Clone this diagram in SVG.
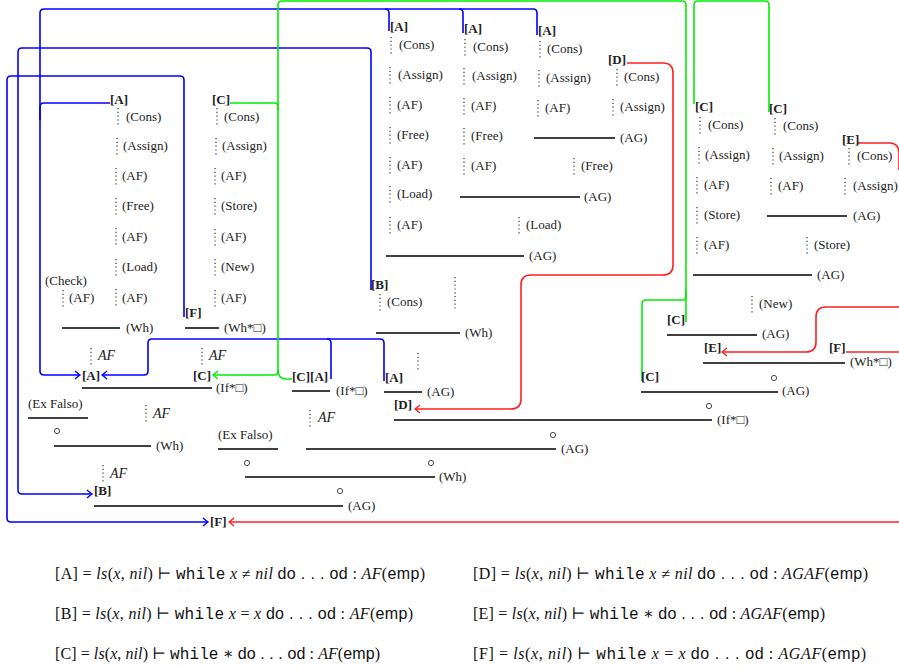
<svg xmlns="http://www.w3.org/2000/svg" width="899" height="669" viewBox="0 0 899 669">
<style>
text{font-family:"Liberation Serif","DejaVu Serif",serif;font-size:13px;fill:#222}
.b{font-weight:bold}
.i{font-style:italic}
.af{font-style:italic;font-size:14px}
.dt{stroke:#444;stroke-width:1.3;stroke-dasharray:1.2 2.6}
.rl{stroke:#000;stroke-width:1.4}
.ci{fill:none;stroke:#333;stroke-width:0.9}
.cb{fill:none;stroke:#0000ff;stroke-width:1.6}
.cg{fill:none;stroke:#00ee00;stroke-width:1.6}
.cr{fill:none;stroke:#ff2020;stroke-width:1.6}
.lg{font-size:16px;fill:#111}
.m{font-family:"Liberation Mono","DejaVu Sans Mono",monospace}
.s{font-family:"Liberation Sans","DejaVu Sans",sans-serif}
</style>
<defs>
<marker id="mb" viewBox="-7 -6 9 12" refX="0" refY="0" markerWidth="9" markerHeight="12" orient="auto" markerUnits="userSpaceOnUse"><path d="M -5 -4 Q -1.5 -1 0 0 Q -1.5 1 -5 4" fill="none" stroke="#0000ff" stroke-width="1.4"/></marker>
<marker id="mg" viewBox="-7 -6 9 12" refX="0" refY="0" markerWidth="9" markerHeight="12" orient="auto" markerUnits="userSpaceOnUse"><path d="M -5 -4 Q -1.5 -1 0 0 Q -1.5 1 -5 4" fill="none" stroke="#00ee00" stroke-width="1.4"/></marker>
<marker id="mr" viewBox="-7 -6 9 12" refX="0" refY="0" markerWidth="9" markerHeight="12" orient="auto" markerUnits="userSpaceOnUse"><path d="M -5 -4 Q -1.5 -1 0 0 Q -1.5 1 -5 4" fill="none" stroke="#ff2020" stroke-width="1.4"/></marker>
</defs>
<rect width="899" height="669" fill="#fff"/>

<g id="connectors">
  <path class="cb" d="M 389 31 V 13 Q 389 9 385 9 H 44 Q 40 9 40 13 V 371 Q 40 375 44 375 H 80" marker-end="url(#mb)"/>
  <path class="cb" d="M 463 33 V 13 Q 463 9 459 9 H 385"/>
  <path class="cb" d="M 537 35 V 13 Q 537 9 533 9 H 459"/>
  <path class="cb" d="M 110 103 H 44 Q 40 103 40 107 V 120"/>
  <path class="cb" d="M 371 290 V 52 Q 371 48 367 48 H 22 Q 18 48 18 52 V 490 Q 18 494 22 494 H 92" marker-end="url(#mb)"/>
  <path class="cb" d="M 184 317 V 80 Q 184 76 180 76 H 11 Q 7 76 7 80 V 518 Q 7 522 11 522 H 208" marker-end="url(#mb)"/>
  <path class="cb" d="M 384 381 V 343 Q 384 339 380 339 H 152 Q 148 339 148 343 V 371 Q 148 375 144 375 H 102" marker-end="url(#mb)"/>
  <path class="cb" d="M 331 379 V 343 Q 331 339 327 339"/>
  <path class="cg" d="M 230 103 H 274 Q 278 103 278 107 V 371 Q 278 375 274 375 H 213" marker-end="url(#mg)"/>
  <path class="cg" d="M 278 370 Q 278 379 286 379 H 292"/>
  <path class="cg" d="M 278 110 V 5 Q 278 1 282 1 H 682 Q 686 1 686 5 V 322"/>
  <path class="cg" d="M 694 104 V 5 Q 694 1 698 1 H 765 Q 769 1 769 5 V 112"/>
  <path class="cg" d="M 686 290 V 296 Q 686 300 682 300 H 646 Q 642 300 642 304 V 381"/>
  <path class="cr" d="M 627 63 H 663 Q 673 63 673 73 V 265 Q 673 275 663 275 H 531 Q 521 275 521 285 V 399 Q 521 409 511 409 H 415" marker-end="url(#mr)"/>
  <path class="cr" d="M 858 143 H 889 Q 899 143 899 153 V 170"/>
  <path class="cr" d="M 905 307 H 826 Q 816 307 816 317 V 342 Q 816 352 806 352 H 722" marker-end="url(#mr)"/>
  <path class="cr" d="M 846 352 H 905"/>
  <path class="cr" d="M 905 522 H 229" marker-end="url(#mr)"/>
</g>

<g id="leftA">
  <text class="b" x="110" y="104">[A]</text>
  <line class="dt" x1="118" y1="108" x2="118" y2="126"/><text x="126" y="121">(Cons)</text>
  <line class="dt" x1="117" y1="138" x2="117" y2="155"/><text x="123" y="150">(Assign)</text>
  <line class="dt" x1="116" y1="168" x2="116" y2="185"/><text x="122" y="180">(AF)</text>
  <line class="dt" x1="116" y1="198" x2="116" y2="215"/><text x="122" y="210">(Free)</text>
  <line class="dt" x1="116" y1="228" x2="116" y2="245"/><text x="122" y="241">(AF)</text>
  <line class="dt" x1="116" y1="259" x2="116" y2="276"/><text x="122" y="271">(Load)</text>
  <line class="dt" x1="116" y1="289" x2="116" y2="306"/><text x="122" y="302">(AF)</text>
  <text x="45" y="285">(Check)</text>
  <line class="dt" x1="63" y1="290" x2="63" y2="307"/><text x="69" y="302">(AF)</text>
  <line class="rl" x1="62" y1="328" x2="120" y2="328"/><text x="126" y="332">(Wh)</text>
  <line class="dt" x1="91" y1="348" x2="91" y2="365"/><text class="af" x="98" y="360">AF</text>
</g>
<g id="leftC">
  <text class="b" x="212" y="104">[C]</text>
  <line class="dt" x1="217" y1="108" x2="217" y2="126"/><text x="224" y="121">(Cons)</text>
  <line class="dt" x1="216" y1="138" x2="216" y2="155"/><text x="222" y="150">(Assign)</text>
  <line class="dt" x1="215" y1="168" x2="215" y2="185"/><text x="221" y="180">(AF)</text>
  <line class="dt" x1="215" y1="198" x2="215" y2="215"/><text x="221" y="210">(Store)</text>
  <line class="dt" x1="215" y1="229" x2="215" y2="246"/><text x="221" y="241">(AF)</text>
  <line class="dt" x1="215" y1="259" x2="215" y2="276"/><text x="221" y="271">(New)</text>
  <line class="dt" x1="215" y1="290" x2="215" y2="307"/><text x="221" y="302">(AF)</text>
  <text class="b" x="185" y="317">[F]</text>
  <line class="rl" x1="185" y1="328" x2="219" y2="328"/><text x="224" y="332">(Wh*□)</text>
  <line class="dt" x1="202" y1="348" x2="202" y2="365"/><text class="af" x="209" y="360">AF</text>
</g>
<g id="leftIf">
  <text class="b" x="82" y="380">[A]</text>
  <text class="b" x="193" y="380">[C]</text>
  <line class="rl" x1="82" y1="388" x2="212" y2="388"/><text x="216" y="392">(If*□)</text>
  <text x="28" y="408">(Ex Falso)</text>
  <line class="rl" x1="28" y1="418" x2="88" y2="418"/>
  <circle class="ci" cx="57" cy="431" r="2.6"/>
  <line class="dt" x1="146" y1="405" x2="146" y2="423"/><text class="af" x="153" y="418">AF</text>
  <line class="rl" x1="54" y1="446" x2="151" y2="446"/><text x="156" y="450">(Wh)</text>
  <line class="dt" x1="103" y1="465" x2="103" y2="482"/><text class="af" x="110" y="478">AF</text>
  <text class="b" x="94" y="495">[B]</text>
  <circle class="ci" cx="340" cy="491" r="2.6"/>
  <line class="rl" x1="94" y1="506" x2="343" y2="506"/><text x="348" y="510">(AG)</text>
  <text class="b" x="210" y="526">[F]</text>
</g>
<g id="midLow">
  <text class="b" x="292" y="381">[C][A]</text>
  <line class="rl" x1="292" y1="391" x2="330" y2="391"/><text x="336" y="395">(If*□)</text>
  <line class="dt" x1="310" y1="410" x2="310" y2="427"/><text class="af" x="318" y="422">AF</text>
  <text x="218" y="439">(Ex Falso)</text>
  <line class="rl" x1="218" y1="449" x2="278" y2="449"/>
  <circle class="ci" cx="247" cy="463" r="2.6"/>
  <circle class="ci" cx="431" cy="463" r="2.6"/>
  <line class="rl" x1="245" y1="477" x2="435" y2="477"/><text x="439" y="481">(Wh)</text>
  <circle class="ci" cx="553" cy="435" r="2.6"/>
  <line class="rl" x1="306" y1="449" x2="556" y2="449"/><text x="561" y="453">(AG)</text>
</g>
<g id="midA1">
  <text class="b" x="390" y="31">[A]</text>
  <line class="dt" x1="391" y1="37" x2="391" y2="54"/><text x="399" y="49">(Cons)</text>
  <line class="dt" x1="390" y1="67" x2="390" y2="84"/><text x="398" y="79">(Assign)</text>
  <line class="dt" x1="390" y1="97" x2="390" y2="114"/><text x="397" y="109">(AF)</text>
  <line class="dt" x1="390" y1="127" x2="390" y2="144"/><text x="397" y="139">(Free)</text>
  <line class="dt" x1="390" y1="157" x2="390" y2="174"/><text x="397" y="169">(AF)</text>
  <line class="dt" x1="390" y1="186" x2="390" y2="203"/><text x="397" y="198">(Load)</text>
  <line class="dt" x1="390" y1="217" x2="390" y2="234"/><text x="397" y="229">(AF)</text>
</g>
<g id="midA2">
  <text class="b" x="464" y="33">[A]</text>
  <line class="dt" x1="465" y1="39" x2="465" y2="56"/><text x="473" y="51">(Cons)</text>
  <line class="dt" x1="464" y1="68" x2="464" y2="85"/><text x="472" y="80">(Assign)</text>
  <line class="dt" x1="464" y1="98" x2="464" y2="115"/><text x="471" y="110">(AF)</text>
  <line class="dt" x1="464" y1="128" x2="464" y2="145"/><text x="471" y="140">(Free)</text>
  <line class="dt" x1="464" y1="158" x2="464" y2="175"/><text x="471" y="170">(AF)</text>
</g>
<g id="midA3">
  <text class="b" x="538" y="35">[A]</text>
  <line class="dt" x1="540" y1="41" x2="540" y2="58"/><text x="547" y="53">(Cons)</text>
  <line class="dt" x1="539" y1="70" x2="539" y2="87"/><text x="546" y="82">(Assign)</text>
  <line class="dt" x1="538" y1="100" x2="538" y2="117"/><text x="545" y="112">(AF)</text>
  <line class="rl" x1="534" y1="138" x2="615" y2="138"/><text x="620" y="142">(AG)</text>
  <line class="dt" x1="574" y1="158" x2="574" y2="175"/><text x="581" y="170">(Free)</text>
</g>
<g id="midD">
  <text class="b" x="608" y="64">[D]</text>
  <line class="dt" x1="617" y1="69" x2="617" y2="86"/><text x="624" y="81">(Cons)</text>
  <line class="dt" x1="613" y1="99" x2="613" y2="116"/><text x="620" y="111">(Assign)</text>
</g>
<g id="midRules">
  <line class="rl" x1="460" y1="197" x2="580" y2="197"/><text x="584" y="201">(AG)</text>
  <line class="dt" x1="519" y1="217" x2="519" y2="234"/><text x="526" y="229">(Load)</text>
  <line class="rl" x1="386" y1="256" x2="524" y2="256"/><text x="529" y="260">(AG)</text>
  <text class="b" x="371" y="289">[B]</text>
  <line class="dt" x1="380" y1="294" x2="380" y2="311"/><text x="387" y="306">(Cons)</text>
  <line class="dt" x1="455" y1="277" x2="455" y2="310"/>
  <line class="rl" x1="376" y1="333" x2="460" y2="333"/><text x="465" y="337">(Wh)</text>
  <line class="dt" x1="418" y1="353" x2="418" y2="370"/>
  <text class="b" x="385" y="382">[A]</text>
  <line class="rl" x1="384" y1="392" x2="422" y2="392"/><text x="427" y="396">(AG)</text>
  <text class="b" x="394" y="409">[D]</text>
  <circle class="ci" cx="709" cy="406" r="2.6"/>
  <line class="rl" x1="394" y1="420" x2="712" y2="420"/><text x="717" y="424">(If*□)</text>
</g>
<g id="rightC1">
  <text class="b" x="695" y="111">[C]</text>
  <line class="dt" x1="700" y1="117" x2="700" y2="134"/><text x="708" y="129">(Cons)</text>
  <line class="dt" x1="699" y1="147" x2="699" y2="164"/><text x="705" y="159">(Assign)</text>
  <line class="dt" x1="697" y1="177" x2="697" y2="194"/><text x="704" y="189">(AF)</text>
  <line class="dt" x1="697" y1="207" x2="697" y2="224"/><text x="704" y="219">(Store)</text>
  <line class="dt" x1="697" y1="237" x2="697" y2="254"/><text x="704" y="249">(AF)</text>
</g>
<g id="rightC2">
  <text class="b" x="769" y="113">[C]</text>
  <line class="dt" x1="775" y1="118" x2="775" y2="135"/><text x="783" y="130">(Cons)</text>
  <line class="dt" x1="773" y1="148" x2="773" y2="165"/><text x="779" y="160">(Assign)</text>
  <line class="dt" x1="771" y1="178" x2="771" y2="195"/><text x="778" y="190">(AF)</text>
  <line class="rl" x1="767" y1="216" x2="847" y2="216"/><text x="853" y="220">(AG)</text>
</g>
<g id="rightE">
  <text class="b" x="842" y="144">[E]</text>
  <line class="dt" x1="849" y1="148" x2="849" y2="165"/><text x="857" y="160">(Cons)</text>
  <line class="dt" x1="845" y1="178" x2="845" y2="195"/><text x="853" y="190">(Assign)</text>
</g>
<g id="rightRules">
  <line class="dt" x1="807" y1="237" x2="807" y2="254"/><text x="814" y="249">(Store)</text>
  <line class="rl" x1="693" y1="275" x2="812" y2="275"/><text x="817" y="279">(AG)</text>
  <line class="dt" x1="752" y1="296" x2="752" y2="313"/><text x="759" y="308">(New)</text>
  <text class="b" x="667" y="324">[C]</text>
  <line class="rl" x1="667" y1="335" x2="757" y2="335"/><text x="762" y="338">(AG)</text>
  <text class="b" x="704" y="352">[E]</text>
  <text class="b" x="829" y="352">[F]</text>
  <line class="rl" x1="703" y1="363" x2="845" y2="363"/><text x="850" y="366">(Wh*□)</text>
  <text class="b" x="641" y="381">[C]</text>
  <circle class="ci" cx="774" cy="378" r="2.6"/>
  <line class="rl" x1="641" y1="392" x2="778" y2="392"/><text x="782" y="395">(AG)</text>
</g>
<g id="legend">
  <text class="lg" x="55" y="579" textLength="370" lengthAdjust="spacing">[A] = <tspan class="i">ls</tspan>(<tspan class="i">x</tspan>, <tspan class="i">nil</tspan>) ⊢ <tspan class="m">while</tspan> <tspan class="i">x</tspan> ≠ <tspan class="i">nil</tspan> <tspan class="s">do . . . od</tspan> : <tspan class="i">AF</tspan>(<tspan class="s">emp</tspan>)</text>
  <text class="lg" x="55" y="619" textLength="358" lengthAdjust="spacing">[B] = <tspan class="i">ls</tspan>(<tspan class="i">x</tspan>, <tspan class="i">nil</tspan>) ⊢ <tspan class="m">while</tspan> <tspan class="i">x</tspan> = <tspan class="i">x</tspan> <tspan class="s">do . . . od</tspan> : <tspan class="i">AF</tspan>(<tspan class="s">emp</tspan>)</text>
  <text class="lg" x="55" y="659" textLength="325" lengthAdjust="spacing">[C] = <tspan class="i">ls</tspan>(<tspan class="i">x</tspan>, <tspan class="i">nil</tspan>) ⊢ <tspan class="m">while</tspan> ∗ <tspan class="s">do . . . od</tspan> : <tspan class="i">AF</tspan>(<tspan class="s">emp</tspan>)</text>
  <text class="lg" x="473" y="579" textLength="395" lengthAdjust="spacing">[D] = <tspan class="i">ls</tspan>(<tspan class="i">x</tspan>, <tspan class="i">nil</tspan>) ⊢ <tspan class="m">while</tspan> <tspan class="i">x</tspan> ≠ <tspan class="i">nil</tspan> <tspan class="s">do . . . od</tspan> : <tspan class="i">AGAF</tspan>(<tspan class="s">emp</tspan>)</text>
  <text class="lg" x="473" y="619" textLength="352" lengthAdjust="spacing">[E] = <tspan class="i">ls</tspan>(<tspan class="i">x</tspan>, <tspan class="i">nil</tspan>) ⊢ <tspan class="m">while</tspan> ∗ <tspan class="s">do . . . od</tspan> : <tspan class="i">AGAF</tspan>(<tspan class="s">emp</tspan>)</text>
  <text class="lg" x="473" y="659" textLength="393" lengthAdjust="spacing">[F] = <tspan class="i">ls</tspan>(<tspan class="i">x</tspan>, <tspan class="i">nil</tspan>) ⊢ <tspan class="m">while</tspan> <tspan class="i">x</tspan> = <tspan class="i">x</tspan> <tspan class="s">do . . . od</tspan> : <tspan class="i">AGAF</tspan>(<tspan class="s">emp</tspan>)</text>
</g>
</svg>
